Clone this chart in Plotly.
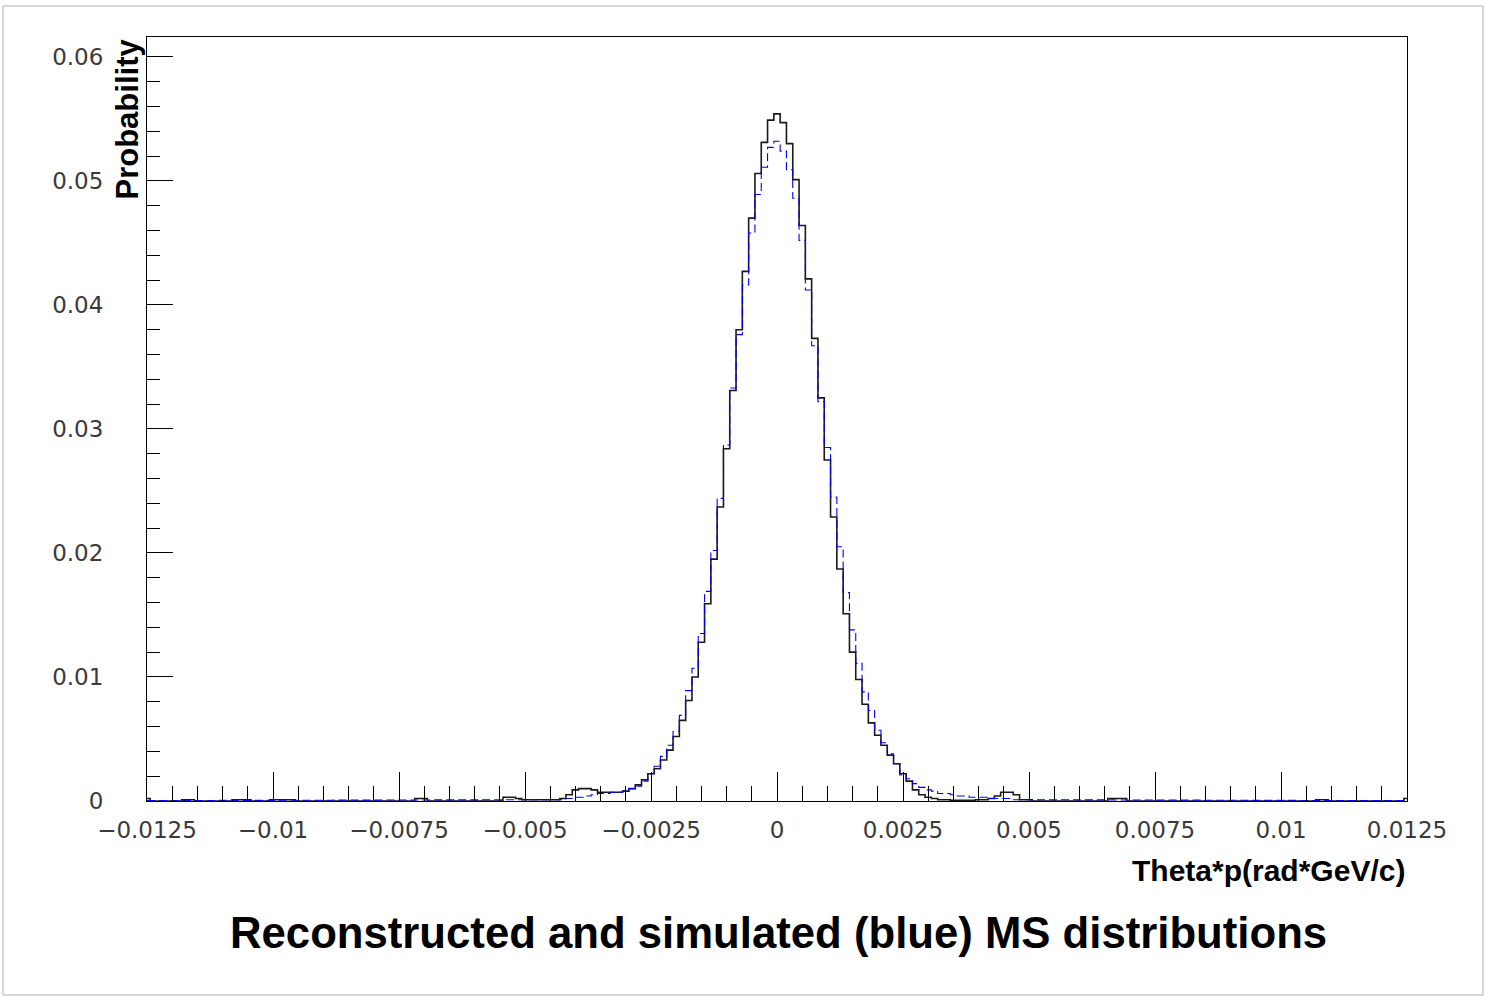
import numpy as np
import plotly.graph_objects as go

# ---------------- data ----------------
bin_width = 0.000125          # 200 bins over [-0.0125, 0.0125]; bin centres k*bin_width, k=-100..100
k_min, k_max = -100, 100

# Reconstructed (black) – left tail k=-100..-41
black_left = [0.0002, 0, 0, 0, 0, 0, 0.0001, 0.0001, 0, 0,
              0, 0, 0, 0, 0.0001, 0.0001, 0.0001, 0, 0, 0,
              0.0001, 0.0001, 0.0001, 0.0001, 0, 0, 0, 0, 0, 0,
              0, 0, 0, 0, 0, 0, 0, 0, 0, 0,
              0, 0, 0, 0.0002, 0.0002, 0, 0, 0, 0, 0,
              0, 0, 0, 0, 0, 0, 0, 0.0003, 0.0003, 0.0002]
# core k=-40..40
black_core = [0.0001, 0.0001, 0.0001, 0.0001, 0.0001, 0.0001, 0.0002, 0.0005, 0.0009, 0.0010,
              0.0010, 0.0009, 0.0007, 0.0007, 0.0007, 0.0007, 0.0008, 0.0010, 0.0013, 0.0017,
              0.0022, 0.0026, 0.0033, 0.0041, 0.0052, 0.0065, 0.0081, 0.0100, 0.0128, 0.0159,
              0.0195, 0.0237, 0.0284, 0.0331, 0.0380, 0.0427, 0.0470, 0.0506, 0.0531, 0.0549,
              0.0554,
              0.0547, 0.0530, 0.0501, 0.0464, 0.0421, 0.0373, 0.0325, 0.0275, 0.0229, 0.0187,
              0.0151, 0.0120, 0.0098, 0.0078, 0.0063, 0.0053, 0.0045, 0.0037, 0.0030, 0.0022,
              0.0016, 0.0009, 0.0005, 0.0003, 0.0002, 0.0001, 0.0001, 0.00005, 0.00005, 0.00005,
              0.00005, 0.0001, 0.0001, 0.0002, 0.0004, 0.0007, 0.0007, 0.0005, 0.0001, 0.0001]
# right tail k=41..100
black_right = [0, 0, 0, 0, 0, 0, 0, 0, 0, 0,
               0, 0, 0.0002, 0.0002, 0.0002, 0, 0, 0, 0, 0,
               0, 0, 0, 0, 0, 0, 0, 0, 0, 0,
               0, 0, 0, 0, 0, 0, 0, 0, 0, 0,
               0, 0, 0, 0, 0, 0.0001, 0.0001, 0, 0, 0,
               0, 0, 0, 0, 0, 0, 0, 0, 0, 0.0002]

# Simulated (blue)
blue_left = [0.00003, 0.00003, 0.00003, 0.00003, 0.00003, 0.00004, 0.00004, 0.00004, 0.00004, 0.00004,
             0.00004, 0.00004, 0.00005, 0.00005, 0.00005, 0.00005, 0.00005, 0.00005, 0.00005, 0.00005,
             0.00005, 0.00006, 0.00006, 0.00006, 0.00006, 0.00006, 0.00006, 0.00006, 0.00006, 0.00006,
             0.00007, 0.00007, 0.00007, 0.00007, 0.00007, 0.00007, 0.00007, 0.00007, 0.00008, 0.00008,
             0.00008, 0.00008, 0.00008, 0.00008, 0.00008, 0.00008, 0.00009, 0.00009, 0.00009, 0.00009,
             0.00009, 0.00009, 0.00009, 0.0001, 0.0001, 0.0001, 0.0001, 0.0001, 0.0001, 0.0001]
blue_core = [0.0001, 0.0001, 0.0001, 0.0001, 0.0001, 0.0001, 0.0001, 0.0002, 0.0003, 0.0003,
             0.0004, 0.0005, 0.0006, 0.0006, 0.0007, 0.0007, 0.0008, 0.0010, 0.0012, 0.0016,
             0.0022, 0.0028, 0.0036, 0.0045, 0.0056, 0.0069, 0.0089, 0.0107, 0.0135, 0.0169,
             0.0202, 0.0244, 0.0287, 0.0333, 0.0376, 0.0416, 0.0458, 0.0489, 0.0511, 0.0527,
             0.0532,
             0.0524, 0.0509, 0.0486, 0.0452, 0.0412, 0.0367, 0.0322, 0.0285, 0.0245, 0.0205,
             0.0168, 0.0138, 0.0111, 0.0088, 0.0073, 0.0057, 0.0047, 0.0038, 0.0030, 0.0021,
             0.0018, 0.0014, 0.0011, 0.0009, 0.0008, 0.0006, 0.0006, 0.0005, 0.0004, 0.0004,
             0.0003, 0.0003, 0.0003, 0.0002, 0.0002, 0.0002, 0.0002, 0.0001, 0.0001, 0.0001]
blue_right = [0.0001, 0.0001, 0.0001, 0.0001, 0.0001, 0.0001, 0.0001, 0.00009, 0.00009, 0.00009,
              0.00009, 0.00009, 0.00009, 0.00008, 0.00008, 0.00008, 0.00008, 0.00008, 0.00008, 0.00008,
              0.00007, 0.00007, 0.00007, 0.00007, 0.00007, 0.00007, 0.00007, 0.00006, 0.00006, 0.00006,
              0.00006, 0.00006, 0.00006, 0.00006, 0.00005, 0.00005, 0.00005, 0.00005, 0.00005, 0.00005,
              0.00005, 0.00005, 0.00004, 0.00004, 0.00004, 0.00004, 0.00004, 0.00004, 0.00004, 0.00004,
              0.00003, 0.00003, 0.00003, 0.00003, 0.00003, 0.00003, 0.00003, 0.00003, 0.00003, 0.00003]

x_tickvals = [-0.0125, -0.01, -0.0075, -0.005, -0.0025, 0, 0.0025, 0.005, 0.0075, 0.01, 0.0125]
x_ticktext = ["\u22120.0125", "\u22120.01", "\u22120.0075", "\u22120.005", "\u22120.0025", "0",
              "0.0025", "0.005", "0.0075", "0.01", "0.0125"]
y_tickvals = [0, 0.01, 0.02, 0.03, 0.04, 0.05, 0.06]
y_ticktext = ["0", "0.01", "0.02", "0.03", "0.04", "0.05", "0.06"]

title_text = "Reconstructed and simulated (blue) MS distributions"
x_title = "Theta*p(rad*GeV/c)"
y_title = "Probability"

# ---------------- figure ----------------
centres = np.arange(k_min, k_max + 1) * bin_width
black = black_left + black_core + black_right
blue = blue_left + blue_core + blue_right

W, H = 1485, 997
L, R, T, B = 147, 78, 37, 196
pw, ph = W - L - R, H - T - B

def px_x(px):
    return (px - L) / pw

def px_y(py):
    return (H - B - py) / ph

fig = go.Figure()
fig.add_trace(go.Scatter(x=centres, y=black, mode="lines", line_shape="hvh",
                         line=dict(color="#1a1a1a", width=1.6), hoverinfo="skip"))
fig.add_trace(go.Scatter(x=centres, y=blue, mode="lines", line_shape="hvh",
                         line=dict(color="#0000ff", width=1.1, dash="8px,4px"), hoverinfo="skip"))

tick_font = dict(family="DejaVu Sans", size=23, color="#3a3a3a")

fig.update_layout(
    width=W, height=H,
    margin=dict(l=L, r=R, t=T, b=B),
    paper_bgcolor="white", plot_bgcolor="white",
    showlegend=False,
    xaxis=dict(range=[-0.0125, 0.0125], tickvals=x_tickvals, ticktext=x_ticktext,
               ticks="inside", ticklen=29, tickwidth=1, tickcolor="black",
               minor=dict(ticks="inside", ticklen=15, tickwidth=1, tickcolor="black",
                          dtick=0.0005, tick0=-0.0125),
               showline=True, linecolor="black", linewidth=1, mirror=True,
               showgrid=False, zeroline=False, tickfont=tick_font, ticklabelstandoff=8),
    yaxis=dict(range=[0, 0.0616], tickvals=y_tickvals, ticktext=y_ticktext,
               ticks="inside", ticklen=26, tickwidth=1, tickcolor="black",
               minor=dict(ticks="inside", ticklen=13, tickwidth=1, tickcolor="black",
                          dtick=0.002, tick0=0),
               showline=True, linecolor="black", linewidth=1, mirror=True,
               showgrid=False, zeroline=False, tickfont=tick_font, ticklabelstandoff=38),
)

bold = dict(family="Liberation Sans, Arial, sans-serif", color="black")
fig.add_annotation(text="<b>" + x_title + "</b>", xref="paper", yref="paper",
                   x=1, y=px_y(870), xanchor="right", yanchor="middle", showarrow=False,
                   font=dict(size=30, **bold))
fig.add_annotation(text="<b>" + y_title + "</b>", xref="paper", yref="paper",
                   x=px_x(127), y=1, xanchor="center", yanchor="top", textangle=-90,
                   showarrow=False, font=dict(size=31, **bold))
fig.add_annotation(text="<b>" + title_text + "</b>", xref="paper", yref="paper",
                   x=px_x(778), y=px_y(932), xanchor="center", yanchor="middle", showarrow=False,
                   font=dict(size=43.7, **bold))

# canvas border
fig.add_shape(type="rect", xref="paper", yref="paper",
              x0=px_x(3), x1=px_x(1483), y0=px_y(995), y1=px_y(6),
              line=dict(color="#b0b0b0", width=1), fillcolor="rgba(0,0,0,0)", layer="below")

fig.write_html("out.html")
